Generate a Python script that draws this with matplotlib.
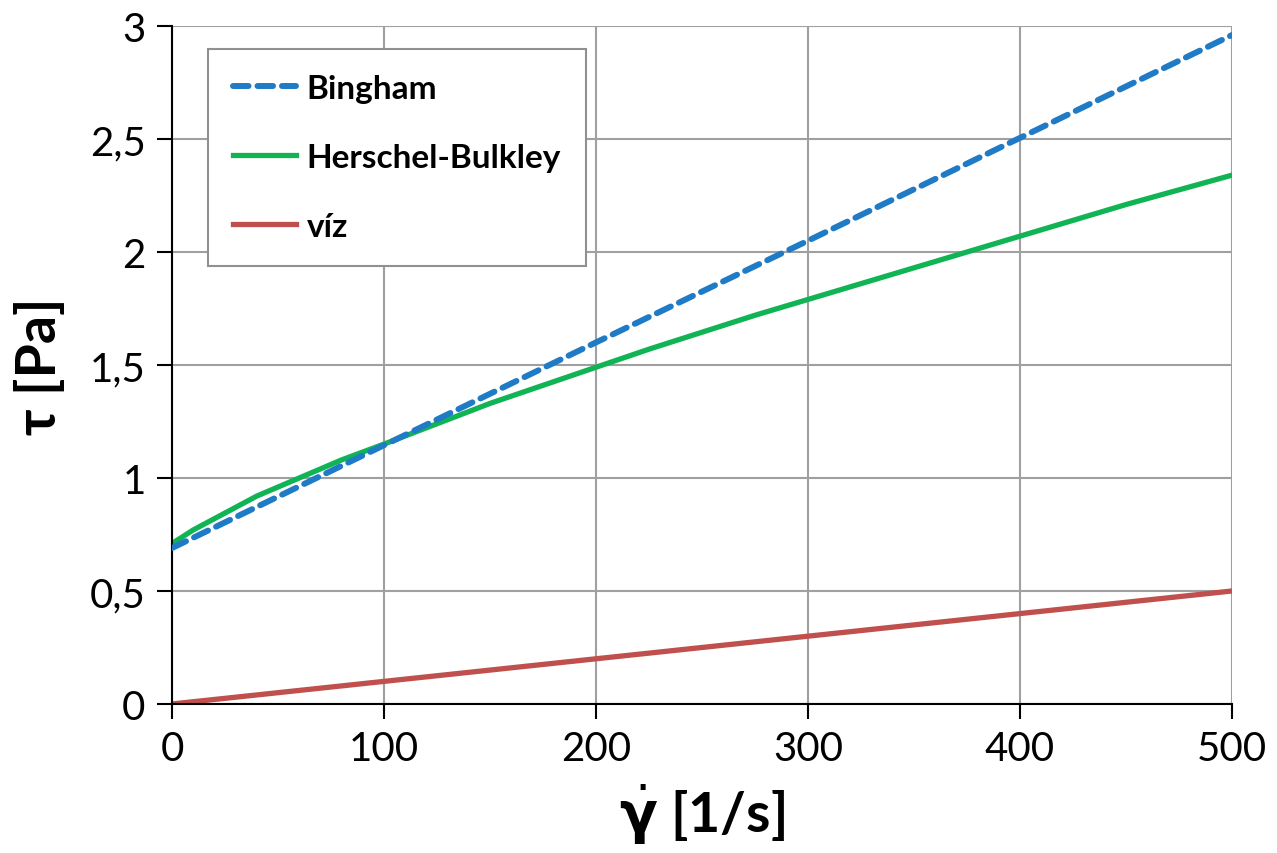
import matplotlib.pyplot as plt

# shear rate [1/s]
rate = [0, 100, 200, 300, 400, 500]
rate_hb = [0, 10, 20, 30, 40, 50, 60, 70, 80, 90, 100, 125, 150, 175, 200,
           225, 250, 275, 300, 325, 350, 375, 400, 425, 450, 475, 500]
# shear stress [Pa]
tau_bingham = [0.69, 1.145, 1.60, 2.05, 2.505, 2.96]
tau_hb = [0.71, 0.77, 0.82, 0.87, 0.92, 0.96, 1.00, 1.04, 1.08, 1.115, 1.15,
          1.24, 1.33, 1.41, 1.49, 1.57, 1.645, 1.72, 1.79, 1.86, 1.93, 2.00,
          2.07, 2.14, 2.21, 2.275, 2.34]
tau_water = [0.0, 0.10, 0.20, 0.30, 0.40, 0.50]

x_ticks = [0, 100, 200, 300, 400, 500]
y_ticks = [0, 0.5, 1, 1.5, 2, 2.5, 3]
y_labels = ["0", "0,5", "1", "1,5", "2", "2,5", "3"]

plt.rcParams["font.family"] = ["Lato", "DejaVu Sans"]
plt.rcParams["mathtext.fontset"] = "dejavusans"

fig = plt.figure(figsize=(12.77, 8.54), dpi=100)
ax = fig.add_axes([0.1347, 0.1745, 0.8301, 0.7939])

ax.plot(rate, tau_bingham, color="#1f7bc6", lw=4.3, dashes=(2.6, 1.5),
        dash_capstyle="round", label="Bingham", zorder=3)
ax.plot(rate_hb, tau_hb, color="#10b454", lw=3.8, label="Herschel-Bulkley", zorder=2)
ax.plot(rate, tau_water, color="#c0504d", lw=3.8, label="víz", zorder=2)

ax.set_xlim(0, 500)
ax.set_ylim(0, 3)
ax.set_xticks(x_ticks)
ax.set_yticks(y_ticks)
ax.set_yticklabels(y_labels)
ax.grid(True, color="#a0a0a0", lw=1.5)
ax.set_axisbelow(True)
for side in ("top", "right"):
    ax.spines[side].set_visible(False)
for side in ("left", "bottom"):
    ax.spines[side].set_color("black")
    ax.spines[side].set_linewidth(1.5)
ax.tick_params(direction="out", length=11, width=1.5, labelsize=29, pad=8)

ax.set_xlabel(r"$\dot{\mathbf{\gamma}}$ [1/s]", fontsize=40, fontweight="bold", labelpad=10)
ax.set_ylabel("τ [Pa]", fontsize=40, fontweight="bold", labelpad=18)

leg = ax.legend(loc="upper left", bbox_to_anchor=(0.034, 0.966), borderaxespad=0,
                prop={"weight": "bold", "size": 24}, fancybox=False,
                edgecolor="#909090", framealpha=1, handlelength=1.9,
                handletextpad=0.3, labelspacing=1.2, borderpad=0.75)
leg.get_frame().set_linewidth(1.5)

fig.savefig("out.png", dpi=100)
